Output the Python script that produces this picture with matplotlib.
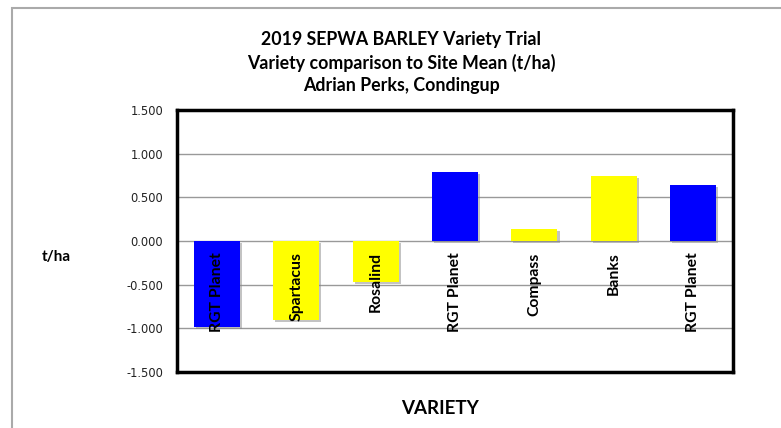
import matplotlib
matplotlib.use("Agg")
import matplotlib.pyplot as plt
from matplotlib.patches import Rectangle
import matplotlib.patheffects as pe

varieties = ["RGT Planet", "Spartacus", "Rosalind", "RGT Planet", "Compass", "Banks", "RGT Planet"]
values = [-0.98, -0.90, -0.47, 0.79, 0.14, 0.75, 0.64]
bar_colors = ["#0000FF", "#FFFF00", "#FFFF00", "#0000FF", "#FFFF00", "#FFFF00", "#0000FF"]
yticks = [-1.5, -1.0, -0.5, 0.0, 0.5, 1.0, 1.5]
title_lines = ["2019 SEPWA BARLEY Variety Trial",
               "Variety comparison to Site Mean (t/ha)",
               "Adrian Perks, Condingup"]

W, H = 781, 428
fig = plt.figure(figsize=(W / 100, H / 100), dpi=100)
fig.patch.set_facecolor("white")

# outer chart border
fig.add_artist(Rectangle((11.5 / W, -0.1), 1.2, 1 - 8 / H + 0.1, transform=fig.transFigure,
                         fill=False, edgecolor="#aaaaaa", lw=1.5))

ax = fig.add_axes([177 / W, 1 - 372 / H, (733 - 177) / W, (372 - 110) / H])
x = list(range(len(varieties)))
bars = ax.bar(x, values, width=0.58, color=bar_colors, zorder=3)
for b in bars:
    b.set_path_effects([pe.SimplePatchShadow(offset=(1.5, -1.5), shadow_rgbFace="#888888", alpha=0.5), pe.Normal()])

ax.set_xlim(-0.5, len(varieties) - 0.5)
ax.set_ylim(-1.5, 1.5)
ax.set_yticks(yticks)
ax.set_yticklabels([f"{v:.3f}" for v in yticks], fontsize=8.3, color="#222222", family="DejaVu Sans")
ax.set_xticks([])
ax.tick_params(axis="y", length=0, pad=10)
ax.grid(axis="y", color="#999999", lw=1, zorder=1)
for s in ax.spines.values():
    s.set_linewidth(2.5)
    s.set_color("black")

for xi, name in zip(x, varieties):
    ax.text(xi, -0.13, name, rotation=90, ha="center", va="top", fontsize=11.3,
            fontweight="bold", family="Lato", zorder=4)

for i, line in enumerate(title_lines):
    fig.text(401 / W, 1 - (40 + i * 22.5) / H, line, ha="center", va="center",
             fontsize=12.8, fontweight="bold", family="Lato")

fig.text(56 / W, 1 - 257 / H, "t/ha", ha="center", va="center", fontsize=11,
         fontweight="bold", family="Lato")
fig.text(440 / W, 1 - 408 / H, "VARIETY", ha="center", va="center", fontsize=13.5,
         fontweight="bold", family="Lato")

fig.savefig("out.png", dpi=100)
